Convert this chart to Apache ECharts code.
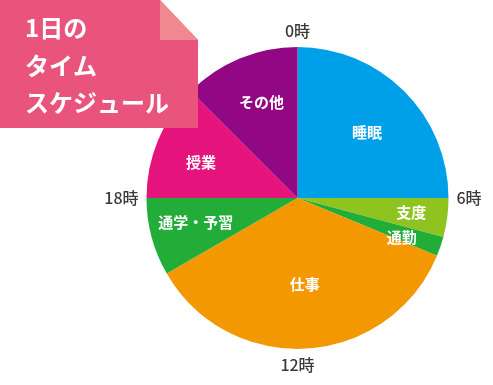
<!DOCTYPE html>
<html><head><meta charset="utf-8">
<script src="https://cdn.jsdelivr.net/npm/echarts@6/dist/echarts.min.js"></script>
<style>html,body{margin:0;padding:0;background:#fff}#c{width:493px;height:385px}</style>
</head><body><div id="c"></div>
<script>
const categories = ['睡眠','支度','通勤','仕事','通学・予習','授業','その他'];
const hours = [6, 1, 0.5, 8.5, 2, 3, 3];
const colors = ['#00a0e9','#8fc31f','#22ac38','#f39800','#22ac38','#e4147c','#920783'];
const hourLabels = ['0時','6時','12時','18時'];
const titleLines = ['1日の','タイム','スケジュール'];
const labelShift = [[14,-10],[36,4],[30,14],[2,8],[-26,4],[-24,-6],[-6,-23]];

const FONT = '"Noto Sans CJK JP","Noto Sans",sans-serif';
const C = [297.5, 198], R = 151;
const chart = echarts.init(document.getElementById('c'));
chart.setOption({
  animation: false,
  polar: { center: C, radius: R },
  angleAxis: {
    type: 'category', data: hourLabels, boundaryGap: false,
    startAngle: 90, clockwise: true,
    axisLine: {show:false}, axisTick: {show:false}, splitLine: {show:false},
    axisLabel: { margin: 8, color: '#3e3a39', fontSize: 16, fontWeight: 500, fontFamily: FONT }
  },
  radiusAxis: { show: false },
  series: [{
    type: 'pie', center: C, radius: R, startAngle: 90, clockwise: true,
    z: 1,
    label: { show: true, position: 'inside', color: '#fff', fontSize: 15, fontWeight: 'bold', fontFamily: FONT },
    labelLine: { show: false },
    labelLayout: p => ({ dx: labelShift[p.dataIndex][0], dy: labelShift[p.dataIndex][1] }),
    emphasis: { disabled: true },
    itemStyle: { borderWidth: 0 },
    data: categories.map((n, i) => ({ name: n, value: hours[i], itemStyle: { color: colors[i] } }))
  }],
  graphic: [
    { type: 'polygon', z: 100, shape: { points: [[0,0],[160,0],[198,40],[198,128],[0,128]] }, style: { fill: '#e9547c' } },
    { type: 'polygon', z: 101, shape: { points: [[160,0],[198,40],[160,40]] }, style: { fill: '#f08890' } },
    ...titleLines.map((t, i) => ({
      type: 'text', z: 102, x: 25, y: [28, 66, 103][i],
      style: { text: t, fill: '#fff', font: 'bold 24px ' + FONT, verticalAlign: 'middle' }
    }))
  ]
});
</script></body></html>
